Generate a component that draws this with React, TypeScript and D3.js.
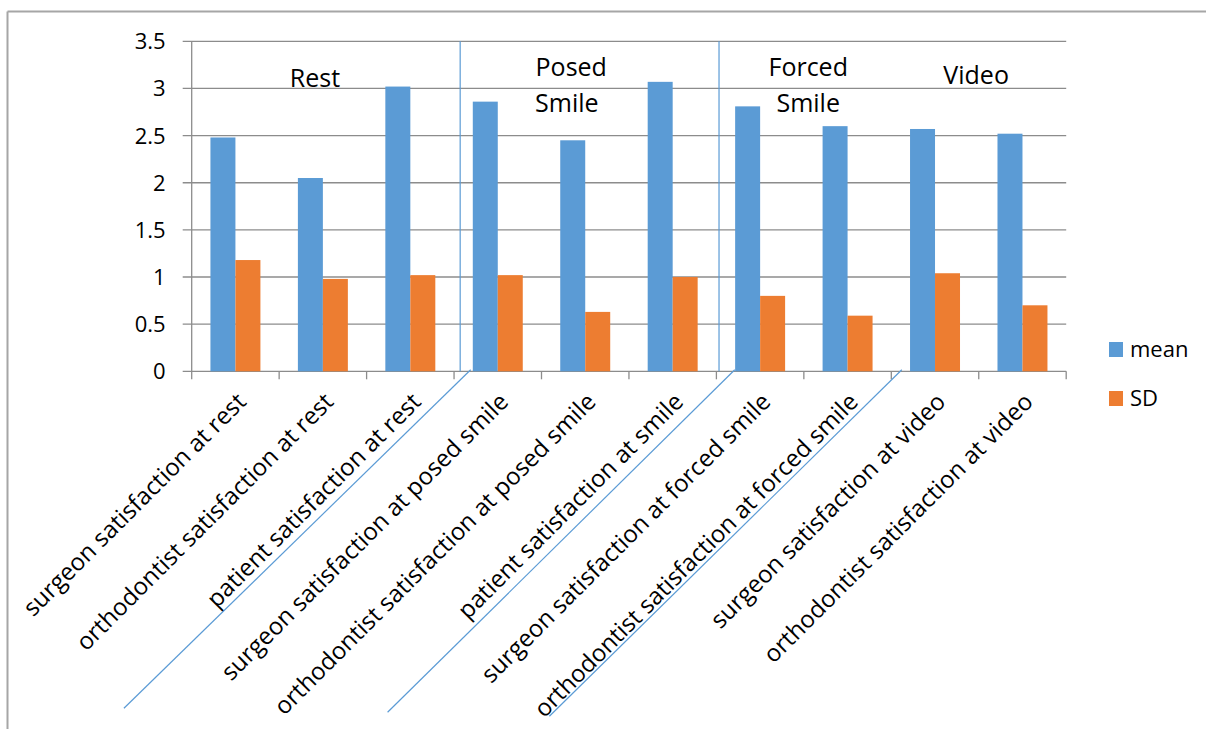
import React from 'react';
import * as d3 from 'd3';

const categories = [
  'surgeon satisfaction at rest',
  'orthodontist satisfaction at rest',
  'patient satisfaction at rest',
  'surgeon satisfaction at posed smile',
  'orthodontist satisfaction at posed smile',
  'patient satisfaction at smile',
  'surgeon satisfaction at forced smile',
  'orthodontist satisfaction at forced smile',
  'surgeon satisfaction at video',
  'orthodontist satisfaction at video',
];
const meanValues = [2.48, 2.05, 3.02, 2.86, 2.45, 3.07, 2.81, 2.6, 2.57, 2.52];
const sdValues = [1.18, 0.98, 1.02, 1.02, 0.63, 1.0, 0.8, 0.59, 1.04, 0.7];
const seriesNames = ['mean', 'SD'];
const seriesColors = ['#5b9bd5', '#ed7d31'];
const yTicks = [0, 0.5, 1, 1.5, 2, 2.5, 3, 3.5];
const yTickLabels = ['0', '0.5', '1', '1.5', '2', '2.5', '3', '3.5'];

// group annotations (position in category units, value units)
const headerTexts = ['Rest', 'Posed', 'Smile', 'Forced', 'Smile', 'Video'];
const headerCat = [1.41, 4.34, 4.29, 7.05, 7.05, 8.97];
const headerVal = [3.02, 3.13, 2.75, 3.13, 2.75, 3.05];
const separatorCat = [3.07, 6.03];
// diagonal annotation lines: top end (category units, on axis), bottom end (category units, px below axis)
const diagTopCat = [3.19, 6.21, 8.12];
const diagBottomCat = [-0.775, 2.24, 4.09];
const diagBottomDrop = [337, 341, 345];

const W = 1206;
const H = 729;
const FONT = "'Open Sans', sans-serif";

export default function App() {
  const x = d3
    .scaleBand<string>()
    .domain(categories)
    .range([191.7, 1066.2])
    .paddingInner(0)
    .paddingOuter(0);
  const step = x.step();
  const xs = d3
    .scaleBand<string>()
    .domain(seriesNames)
    .range([0, step])
    .paddingInner(0)
    .paddingOuter(0.75);
  const y = d3.scaleLinear().domain([0, 3.5]).range([371.3, 41.3]);
  const x0 = x.range()[0];
  const x1 = x.range()[1];
  const catX = (u: number) => x0 + u * step;
  const y0 = y(0);
  const series = [meanValues, sdValues];
  const grid = '#8c8c8c';

  return (
    <svg
      width={W}
      height={H}
      style={{ position: 'absolute', left: 0, top: 0, background: '#fff' }}
      fontFamily={FONT}
    >
      <rect x={0} y={0} width={W} height={H} fill="#fff" />
      {/* outer border */}
      <line x1={7.5} x2={7.5} y1={11.5} y2={H + 5} stroke="#a6a6a6" strokeWidth={2} />
      <line x1={7.5} x2={W + 5} y1={11.5} y2={11.5} stroke="#a6a6a6" strokeWidth={2} />

      {/* gridlines */}
      {yTicks.map((t) => (
        <line key={t} x1={x0 - 9} x2={x1} y1={y(t)} y2={y(t)} stroke={grid} strokeWidth={1.3} />
      ))}
      {/* y axis */}
      <line x1={x0} x2={x0} y1={y(3.5)} y2={y0} stroke={grid} strokeWidth={1.3} />
      {yTicks.map((t, i) => (
        <text
          key={'yl' + t}
          x={x0 - 26}
          y={y(t)}
          dy="0.36em"
          textAnchor="end"
          fontSize={22}
          fill="#000"
        >
          {yTickLabels[i]}
        </text>
      ))}
      {/* x ticks */}
      {d3.range(categories.length + 1).map((i) => (
        <line key={'xt' + i} x1={catX(i)} x2={catX(i)} y1={y0} y2={y0 + 8} stroke={grid} strokeWidth={1.3} />
      ))}

      {/* bars */}
      {categories.map((c, ci) => (
        <g key={c} transform={`translate(${x(c)},0)`}>
          {seriesNames.map((s, si) => (
            <rect
              key={s}
              x={xs(s)}
              y={y(series[si][ci])}
              width={xs.bandwidth()}
              height={y0 - y(series[si][ci])}
              fill={seriesColors[si]}
            />
          ))}
        </g>
      ))}

      {/* separators */}
      {separatorCat.map((u, i) => (
        <line key={'sep' + i} x1={catX(u)} x2={catX(u)} y1={y(3.5)} y2={y0} stroke="#5b9bd5" strokeWidth={1.2} />
      ))}
      {/* diagonal annotation lines */}
      {diagTopCat.map((u, i) => (
        <line
          key={'diag' + i}
          x1={catX(u)}
          y1={y0 - 1.5}
          x2={catX(diagBottomCat[i])}
          y2={y0 + diagBottomDrop[i]}
          stroke="#5b9bd5"
          strokeWidth={1.2}
        />
      ))}

      {/* category labels */}
      {categories.map((c) => (
        <text
          key={'cl' + c}
          transform={`translate(${(x(c) as number) + step / 2 + 12},${y0 + 32}) rotate(-45)`}
          textAnchor="end"
          fontSize={24}
          fill="#000"
        >
          {c}
        </text>
      ))}

      {/* group headers */}
      {headerTexts.map((t, i) => (
        <text key={'h' + i} x={catX(headerCat[i])} y={y(headerVal[i])} textAnchor="middle" fontSize={25} fill="#000">
          {t}
        </text>
      ))}

      {/* legend */}
      {seriesNames.map((s, i) => (
        <g key={'lg' + s} transform={`translate(1109,${342 + i * 49})`}>
          <rect x={0} y={0} width={14} height={15} fill={seriesColors[i]} />
          <text x={21} y={15} fontSize={22} fill="#000">
            {s}
          </text>
        </g>
      ))}
    </svg>
  );
}
